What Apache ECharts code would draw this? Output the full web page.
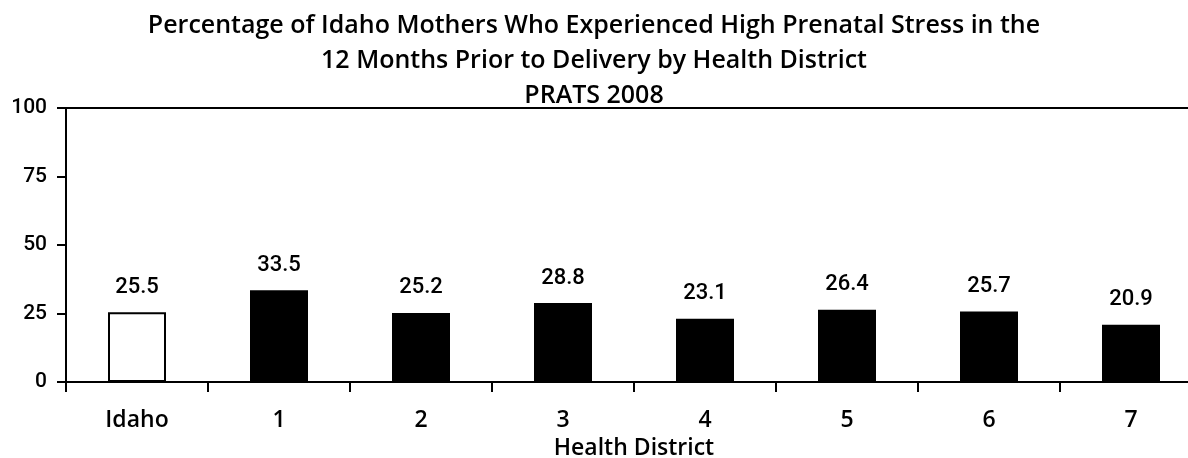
<!DOCTYPE html>
<html>
<head>
<meta charset="utf-8">
<script src="https://cdn.jsdelivr.net/npm/echarts@6/dist/echarts.min.js"></script>
<style>html,body{margin:0;padding:0;background:#fff}#c{width:1188px;height:458px}</style>
</head>
<body>
<div id="c"></div>
<script>
const categories = ['Idaho', '1', '2', '3', '4', '5', '6', '7'];
const values = [25.5, 33.5, 25.2, 28.8, 23.1, 26.4, 25.7, 20.9];
const yTicks = [0, 25, 50, 75, 100];
const titleLines = [
  'Percentage of Idaho Mothers Who Experienced High Prenatal Stress in the',
  '12 Months Prior to Delivery by Health District',
  'PRATS 2008'
];
const xAxisName = 'Health District';

const chart = echarts.init(document.getElementById('c'));
const FONT = 'Open Sans';
chart.setOption({
  animation: false,
  backgroundColor: '#fff',
  title: {
    text: titleLines.join('\n'),
    left: 'center',
    top: 3,
    textStyle: { fontFamily: FONT, fontWeight: 600, fontSize: 25, lineHeight: 35, color: '#000' }
  },
  grid: { left: 66, top: 108, width: 1136, height: 274, show: true, borderColor: '#000', borderWidth: 2, containLabel: false, outerBoundsMode: 'none' },
  xAxis: {
    type: 'category',
    data: categories,
    name: xAxisName,
    nameLocation: 'middle',
    nameGap: 54,
    nameTextStyle: { fontFamily: FONT, fontWeight: 600, fontSize: 23, color: '#000' },
    axisLine: { lineStyle: { color: '#000', width: 2 } },
    axisTick: { show: true, length: 10, lineStyle: { color: '#000', width: 2 } },
    axisLabel: { fontFamily: FONT, fontWeight: 600, fontSize: 23, color: '#000', margin: 27 }
  },
  yAxis: {
    type: 'value',
    min: yTicks[0], max: yTicks[yTicks.length - 1], interval: 25,
    splitLine: { show: false },
    axisLine: { show: true, lineStyle: { color: '#000', width: 2 } },
    axisTick: { show: true, length: 9, lineStyle: { color: '#000', width: 2 } },
    axisLabel: { fontFamily: 'Roboto', fontWeight: 500, fontSize: 21, color: '#000', margin: 19 }
  },
  series: [{
    type: 'bar',
    barWidth: 58,
    data: values.map((v, i) => ({
      value: v,
      itemStyle: i === 0 ? { color: '#fff', borderColor: '#000', borderWidth: 2 } : { color: '#000' }
    })),
    label: {
      show: true, position: 'top', distance: 14,
      fontFamily: 'Roboto', fontWeight: 500, fontSize: 22, color: '#000',
      formatter: p => p.value.toFixed(1)
    }
  }]
});
</script>
</body>
</html>
